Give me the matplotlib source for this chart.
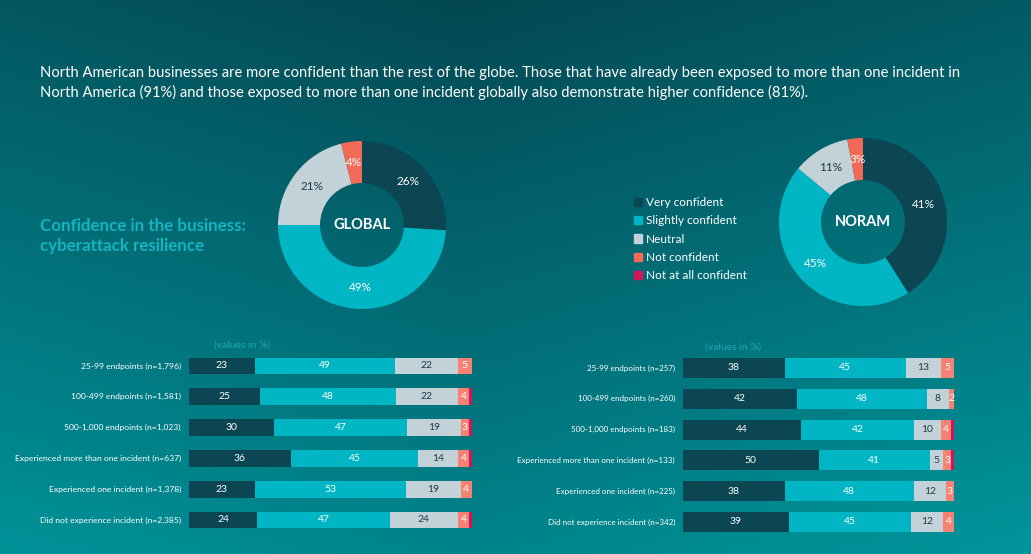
"""Confidence in the business: cyberattack resilience (donuts + stacked bars)."""
import matplotlib.pyplot as plt
import numpy as np
from matplotlib.patches import Patch

plt.rcParams["font.family"] = ["Lato", "DejaVu Sans"]

# data
categories = ["Very confident", "Slightly confident", "Neutral", "Not confident", "Not at all confident"]
global_pie = [26, 49, 21, 4, 0]
noram_pie = [41, 45, 11, 3, 0]

global_rows = [
    "25-99 endpoints (n=1,796)",
    "100-499 endpoints (n=1,581)",
    "500-1,000 endpoints (n=1,023)",
    "Experienced more than one incident (n=637)",
    "Experienced one incident (n=1,378)",
    "Did not experience incident (n=2,385)",
]
global_very = [23, 25, 30, 36, 23, 24]
global_slight = [49, 48, 47, 45, 53, 47]
global_neutral = [22, 22, 19, 14, 19, 24]
global_not = [5, 4, 3, 4, 4, 4]
global_notatall = [0, 1, 1, 1, 0, 1]

noram_rows = [
    "25-99 endpoints (n=257)",
    "100-499 endpoints (n=260)",
    "500-1,000 endpoints (n=183)",
    "Experienced more than one incident (n=133)",
    "Experienced one incident (n=225)",
    "Did not experience incident (n=342)",
]
noram_very = [38, 42, 44, 50, 38, 39]
noram_slight = [45, 48, 42, 41, 48, 45]
noram_neutral = [13, 8, 10, 5, 12, 12]
noram_not = [5, 2, 4, 3, 3, 4]
noram_notatall = [0, 0, 1, 1, 0, 0]

DARK = "#0b4652"
SLIGHT = "#00b6c4"
NEUTRAL = "#c3d2d9"
NOTC = "#f26a55"
NOTC_BAR = "#f58273"
NOTALL = "#d3145a"
pie_colors = [DARK, SLIGHT, NEUTRAL, NOTC, NOTALL]
bar_colors = [DARK, SLIGHT, NEUTRAL, NOTC_BAR, NOTALL]
txt_colors = ["white", "white", "#1d3d47", "white", "white"]

W, H = 1031, 554
fig = plt.figure(figsize=(W / 100, H / 100), dpi=100)


def px_axes(x0, y0, x1, y1):
    return fig.add_axes([x0 / W, 1 - y1 / H, (x1 - x0) / W, (y1 - y0) / H])


# background gradient
bg = px_axes(0, 0, W, H)
yy, xx = np.mgrid[0:1:200j, 0:1:300j]
t = np.clip(0.75 * yy + 0.25 * np.abs(xx - 0.45) * 1.6, 0, 1)
top = np.array([0x04, 0x48, 0x53]) / 255
bot = np.array([0x00, 0x98, 0x9e]) / 255
img = top[None, None, :] * (1 - t[..., None]) + bot[None, None, :] * t[..., None]
bg.imshow(img, aspect="auto", extent=[0, 1, 0, 1], origin="upper")
bg.set_axis_off()

fig.text(40 / W, 1 - 73 / H,
         "North American businesses are more confident than the rest of the globe. Those that have already been exposed to more than one incident in",
         color="white", fontsize=10.6, va="center")
fig.text(40 / W, 1 - 92 / H,
         "North America (91%) and those exposed to more than one incident globally also demonstrate higher confidence (81%).",
         color="white", fontsize=10.6, va="center")
fig.text(40 / W, 1 - 236 / H, "Confidence in the business:\ncyberattack resilience",
         color="#14b3c2", fontsize=12.2, fontweight="bold", va="center", linespacing=1.3)


def donut(cx, cy, r, values, name):
    ax = px_axes(cx - r, cy - r, cx + r, cy + r)
    vals = [v for v in values if v > 0]
    cols = [c for v, c in zip(values, pie_colors) if v > 0]
    tcols = [c for v, c in zip(values, txt_colors) if v > 0]
    wedges, texts = ax.pie(vals, colors=cols, startangle=90, counterclock=False,
                           radius=1, wedgeprops=dict(width=0.5, linewidth=0))
    for w, v, tc in zip(wedges, vals, tcols):
        ang = np.deg2rad((w.theta1 + w.theta2) / 2)
        ax.text(0.75 * np.cos(ang), 0.75 * np.sin(ang), f"{v}%", color=tc,
                fontsize=8.5, ha="center", va="center")
    ax.text(0, 0, name, color="white", fontsize=10.5, fontweight="bold", ha="center", va="center")
    ax.set_xlim(-1, 1)
    ax.set_ylim(-1, 1)
    ax.set_axis_off()


donut(362, 225, 84, global_pie, "GLOBAL")
donut(863, 222, 84, noram_pie, "NORAM")

handles = [Patch(color=c) for c in pie_colors]
fig.legend(handles, categories, loc="upper left", bbox_to_anchor=(628 / W, 1 - 191 / H),
           frameon=False, fontsize=8.5, labelcolor="white", handlelength=0.7, handleheight=0.7,
           handletextpad=0.35, labelspacing=0.62, borderpad=0)


def bars(x0, x1, yc0, yc1, height, rows, series, label_right, label_size):
    n = len(rows)
    step = (yc1 - yc0) / (n - 1)
    ax = px_axes(x0, yc0 - step / 2, x1, yc1 + step / 2)
    y = np.arange(n)
    data = np.array(series, dtype=float)
    totals = data.sum(axis=0)
    left = np.zeros(n)
    for vals, col, tc in zip(data, bar_colors, txt_colors):
        widths = vals / totals * 100
        ax.barh(y, widths, left=left, height=height, color=col, linewidth=0)
        for yi, (l, w, v) in enumerate(zip(left, widths, vals)):
            if v >= 2 and col != NOTALL:
                ax.text(l + w / 2, yi, f"{int(v)}", color=tc, fontsize=7.5,
                        ha="center", va="center")
        left += widths
    ax.set_xlim(0, 100)
    ax.set_ylim(n - 0.5, -0.5)
    ax.set_axis_off()
    for yi, name in enumerate(rows):
        fig.text(label_right / W, 1 - (yc0 + yi * step) / H, name, color="white",
                 fontsize=label_size, ha="right", va="center")


bars(189, 472, 366, 520, 0.55, global_rows,
     [global_very, global_slight, global_neutral, global_not, global_notatall], 181, 6.1)
bars(683, 954, 368, 522, 0.65, noram_rows,
     [noram_very, noram_slight, noram_neutral, noram_not, noram_notatall], 675, 5.8)

fig.text(242 / W, 1 - 345 / H, "(values in %)", color="#1aa9b5", fontsize=7.5, ha="center", va="center")
fig.text(733 / W, 1 - 347 / H, "(values in %)", color="#1aa9b5", fontsize=7.5, ha="center", va="center")

fig.savefig("out.png", dpi=100)
